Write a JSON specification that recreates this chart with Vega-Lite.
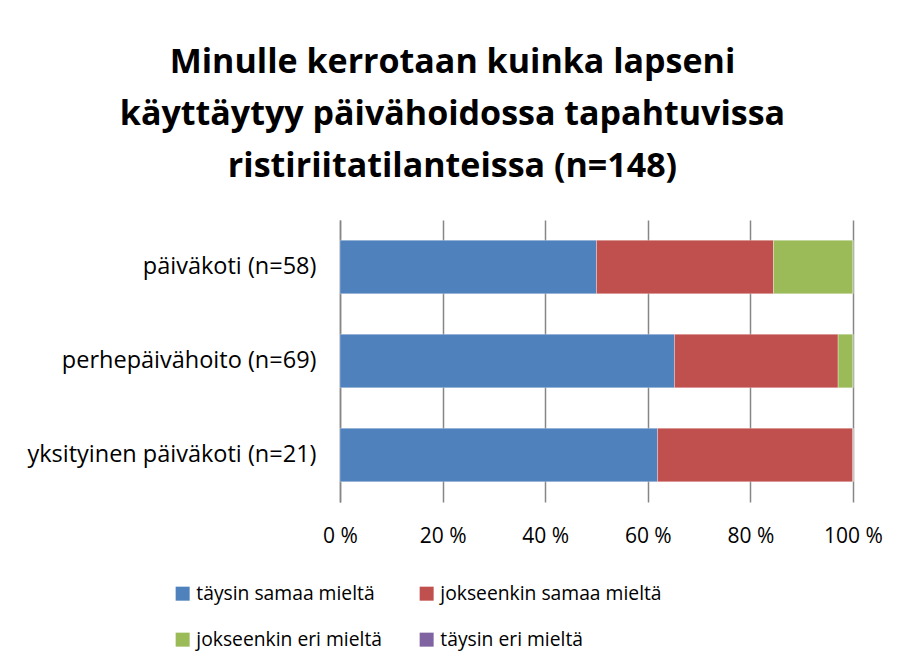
{
  "$schema": "https://vega.github.io/schema/vega-lite/v6.json",
  "width": 513,
  "height": 282,
  "autosize": {"type": "none"},
  "padding": {"left": 340, "top": 220, "right": 51, "bottom": 166},
  "background": "white",
  "title": {
    "text": ["Minulle kerrotaan kuinka lapseni", "käyttäytyy päivähoidossa tapahtuvissa", "ristiriitatilanteissa (n=148)"],
    "font": "Open Sans",
    "fontSize": 34,
    "fontWeight": "bold",
    "color": "#000000",
    "lineHeight": 52,
    "anchor": "middle",
    "frame": "group",
    "dx": -144,
    "offset": 36
  },
  "data": {
    "values": [
      {"ryhma": "päiväkoti (n=58)", "vastaus": "täysin samaa mieltä", "jarj": 1, "osuus": 50.0},
      {"ryhma": "päiväkoti (n=58)", "vastaus": "jokseenkin samaa mieltä", "jarj": 2, "osuus": 34.5},
      {"ryhma": "päiväkoti (n=58)", "vastaus": "jokseenkin eri mieltä", "jarj": 3, "osuus": 15.5},
      {"ryhma": "päiväkoti (n=58)", "vastaus": "täysin eri mieltä", "jarj": 4, "osuus": 0},
      {"ryhma": "perhepäivähoito (n=69)", "vastaus": "täysin samaa mieltä", "jarj": 1, "osuus": 65.2},
      {"ryhma": "perhepäivähoito (n=69)", "vastaus": "jokseenkin samaa mieltä", "jarj": 2, "osuus": 31.9},
      {"ryhma": "perhepäivähoito (n=69)", "vastaus": "jokseenkin eri mieltä", "jarj": 3, "osuus": 2.9},
      {"ryhma": "perhepäivähoito (n=69)", "vastaus": "täysin eri mieltä", "jarj": 4, "osuus": 0},
      {"ryhma": "yksityinen päiväkoti (n=21)", "vastaus": "täysin samaa mieltä", "jarj": 1, "osuus": 61.9},
      {"ryhma": "yksityinen päiväkoti (n=21)", "vastaus": "jokseenkin samaa mieltä", "jarj": 2, "osuus": 38.1},
      {"ryhma": "yksityinen päiväkoti (n=21)", "vastaus": "jokseenkin eri mieltä", "jarj": 3, "osuus": 0},
      {"ryhma": "yksityinen päiväkoti (n=21)", "vastaus": "täysin eri mieltä", "jarj": 4, "osuus": 0}
    ]
  },
  "mark": {"type": "bar", "stroke": "white", "strokeWidth": 0.5, "strokeOpacity": 0.6},
  "encoding": {
    "y": {
      "field": "ryhma",
      "type": "nominal",
      "sort": ["päiväkoti (n=58)", "perhepäivähoito (n=69)", "yksityinen päiväkoti (n=21)"],
      "scale": {"paddingInner": 0.43, "paddingOuter": 0.215},
      "axis": {
        "title": null,
        "domain": true,
        "domainColor": "#868686",
        "domainWidth": 1.5,
        "ticks": false,
        "labelFont": "Open Sans",
        "labelFontSize": 23.5,
        "labelColor": "#000000",
        "labelPadding": 24,
        "labelLimit": 400
      }
    },
    "x": {
      "field": "osuus",
      "type": "quantitative",
      "stack": "zero",
      "scale": {"domain": [0, 100], "nice": false},
      "axis": {
        "title": null,
        "values": [0, 20, 40, 60, 80, 100],
        "labelExpr": "datum.value + ' %'",
        "domain": false,
        "ticks": false,
        "grid": true,
        "gridColor": "#868686",
        "gridWidth": 1.5,
        "labelFont": "Open Sans",
        "labelFontSize": 21,
        "labelColor": "#000000",
        "labelPadding": 23,
        "labelFlush": false
      }
    },
    "color": {
      "field": "vastaus",
      "type": "nominal",
      "scale": {
        "domain": ["täysin samaa mieltä", "jokseenkin samaa mieltä", "jokseenkin eri mieltä", "täysin eri mieltä"],
        "range": ["#4F81BD", "#C0504D", "#9BBB59", "#8064A2"]
      },
      "legend": {
        "title": null,
        "orient": "none",
        "legendX": -167,
        "legendY": 364,
        "direction": "horizontal",
        "columns": 2,
        "columnPadding": 35,
        "rowPadding": 26,
        "symbolType": "square",
        "symbolSize": 196,
        "symbolStrokeWidth": 0,
        "labelFont": "Open Sans",
        "labelFontSize": 19.3,
        "labelColor": "#000000",
        "labelOffset": 4,
        "labelLimit": 400
      }
    },
    "order": {"field": "jarj", "type": "quantitative"}
  },
  "config": {"view": {"stroke": null}}
}
